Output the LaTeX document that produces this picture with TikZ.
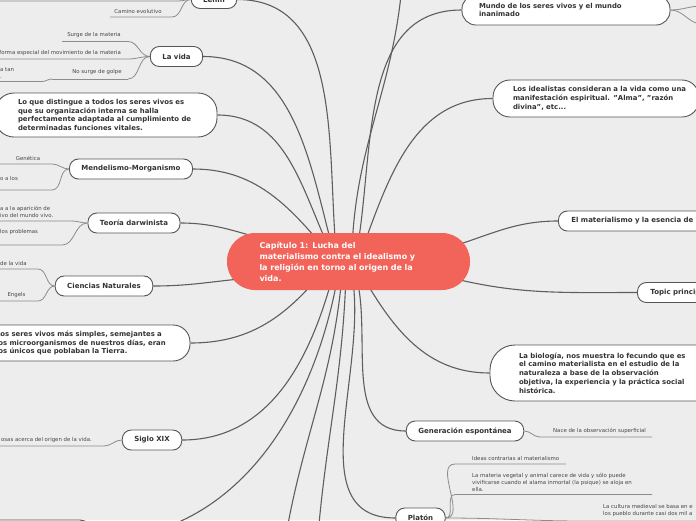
\documentclass[tikz,border=0pt]{standalone}
\usepackage{fontspec}
\setmainfont{DejaVu Sans}
\definecolor{bgc}{HTML}{EDEDED}
\definecolor{redc}{HTML}{F2635A}
\definecolor{edgec}{HTML}{555555}
\definecolor{txt}{HTML}{333333}
\definecolor{connc}{HTML}{5E5E5E}
\definecolor{subc}{HTML}{8C8C8C}
\pgfdeclarelayer{bgl}\pgfdeclarelayer{cl}\pgfsetlayers{bgl,cl,main}
\tikzset{
 box/.style={draw=edgec, line width=0.9pt, fill=white, rounded corners=9pt, minimum height=20pt, inner xsep=12pt, inner ysep=0pt, font=\fontsize{7}{9}\selectfont\bfseries, text=txt},
 mbox/.style={draw=edgec, line width=0.9pt, fill=white, inner ysep=0pt, align=left, font=\fontsize{6.9}{8.8}\selectfont\bfseries, text=txt},
 small/.style={font=\fontsize{5.4}{7}\selectfont, text=black!72, inner sep=0pt, align=left},
 mainc/.style={connc, line width=1.1pt},
 subl/.style={subc, line width=0.8pt},
}
\begin{document}
\begin{tikzpicture}[x=1pt,y=-1pt]
\begin{pgfonlayer}{bgl}
\fill[bgc] (0,0) rectangle (696,520);
\end{pgfonlayer}
\useasboundingbox (0,0) rectangle (696,520);
% centre
\node[fill=redc, rounded corners=28pt, minimum width=243pt, minimum height=57pt, text width=178pt, inner xsep=32.5pt, inner ysep=0pt, align=left, text=white, font=\fontsize{8}{11}\selectfont\bfseries] (c) at (348.5,261.5) {Capítulo 1: Lucha del\\materialismo contra el idealismo y\\la religión en torno al origen de la\\vida.};
% left branches
\node[box, minimum height=18pt] (lenin) at (214,-0.5) {Lenin};
\node[box] (vida) at (176.5,56.5) {La vida};
\node[mbox, rounded corners=19pt, minimum width=222pt, minimum height=44pt, text width=176pt, inner xsep=23pt] (dist) at (106,115) {\mbox{Lo que distingue a todos los seres vivos es}\\\mbox{que su organización interna se halla}\\\mbox{perfectamente adaptada al cumplimiento de}\\\mbox{determinadas funciones vitales.}};
\node[box] (mend) at (131,169) {Mendelismo-Morganismo};
\node[box] (darw) at (134,223) {Teoría darwinista};
\node[box] (cien) at (104,286) {Ciencias Naturales};
\node[mbox, rounded corners=17pt, minimum width=216pt, minimum height=36pt, text width=172pt, inner xsep=22pt] (simp) at (82,343) {\mbox{Los seres vivos más simples, semejantes a}\\\mbox{los microorganismos de nuestros días, eran}\\\mbox{los únicos que poblaban la Tierra.}};
\node[box] (siglo) at (152,440) {Siglo XIX};
\node[box, minimum width=192pt, minimum height=40pt, rounded corners=12pt] (bl) at (-4,540) {};
% right branches
\node[mbox, rounded corners=14pt, minimum width=208pt, minimum height=30pt, text width=174pt, inner xsep=17pt] (mundo) at (566,10) {\mbox{Mundo de los seres vivos y el mundo}\\\mbox{inanimado}};
\node[mbox, rounded corners=17pt, minimum width=206pt, minimum height=37pt, text width=166pt, inner xsep=20pt] (ideal) at (596,98.5) {\mbox{Los idealistas consideran a la vida como una}\\\mbox{manifestación espiritual. "Alma", "razón}\\\mbox{divina", etc...}};
\node[box, anchor=west, text width=180pt, inner xsep=13pt, align=left] (mater) at (558,221) {\mbox{El materialismo y la esencia de la vida}};
\node[box, anchor=west, text width=80pt, inner xsep=13pt, align=left] (topic) at (637,292.5) {Topic principal};
\node[mbox, rounded corners=25pt, minimum width=232pt, minimum height=56pt, text width=174pt, inner xsep=29pt] (bio) at (606,373) {\mbox{La biología, nos muestra lo fecundo que es}\\\mbox{el camino materialista en el estudio de la}\\\mbox{naturaleza a base de la observación}\\\mbox{objetiva, la experiencia y la práctica social}\\\mbox{histórica.}};
\node[box] (gen) at (465,431) {Generación espontánea};
\node[box] (plat) at (420.5,518) {Platón};
% small texts
\node[small] (s1) at (138,11.5) {Camino evolutivo};
\node[small] (s2) at (94,35) {Surge de la materia};
\node[small, anchor=east] (s3) at (121,53) {Es una forma especial del movimiento de la materia};
\node[small] (s4) at (97,72.5) {No surge de golpe};
\node[small, anchor=west] (s5) at (0,73) {a tan\\.};
\node[small] (s6) at (28,158) {Genética};
\node[small, anchor=west] (s7) at (0,178) {o a los};
\node[small, anchor=west] (s8) at (0,212) {a a la aparición de\\ivo del mundo vivo.};
\node[small, anchor=west] (s9) at (0,232.5) {los problemas};
\node[small, anchor=west] (s10) at (0,263) {de la vida};
\node[small] (s11) at (16.5,295) {Engels};
\node[small, anchor=east] (s12) at (92,440) {osas acerca del origen de la vida.};
\node[small, anchor=west] (s13) at (553,431) {Nace de la observación superficial};
\node[small, anchor=west] (s14) at (472,458) {Ideas contrarias al materialismo};
\node[small, anchor=north west] (s15) at (472,473) {La materia vegetal y animal carece de vida y sólo puede\\vivificarse cuando el alama inmortal (la psique) se aloja en\\ella.};
\node[small, anchor=west] (s16) at (603,510.5) {La cultura medieval se basa en e\\los pueblo durante casi dos mil a};
% coordinates
\coordinate (l0a) at (-5,1); \coordinate (l0b) at (178,1);
\coordinate (u1a) at (110,17); \coordinate (u1b) at (172,17);
\coordinate (u2a) at (62,41.5); \coordinate (u2b) at (128,41.5);
\coordinate (u3a) at (-5,59); \coordinate (u3b) at (128,59);
\coordinate (u4a) at (52,79); \coordinate (u4b) at (128,79);
\coordinate (u5a) at (-5,81.5); \coordinate (u5b) at (42,81.5);
\coordinate (u6a) at (-5,164); \coordinate (u6b) at (52,164);
\coordinate (u7a) at (-5,190); \coordinate (u7b) at (52,190);
\coordinate (u8a) at (-5,221); \coordinate (u8b) at (72,221);
\coordinate (u9a) at (-5,245); \coordinate (u9b) at (62,245);
\coordinate (u10a) at (-5,269); \coordinate (u10b) at (38,269);
\coordinate (u11a) at (-5,301); \coordinate (u11b) at (38,301);
\coordinate (u12a) at (-5,446); \coordinate (u12b) at (104,446);
\coordinate (u13a) at (540,437); \coordinate (u13b) at (652,437);
\coordinate (u14a) at (455,464); \coordinate (u14b) at (566,464);
\coordinate (u15a) at (455,494.5); \coordinate (u15b) at (652,494.5);
\coordinate (u16a) at (585,521); \coordinate (u16b) at (720,521);
\coordinate (m1) at (702,6); \coordinate (m2) at (702,24);
\coordinate (t1) at (402,-15);
\coordinate (b1) at (286,535); \coordinate (b2) at (318,535);
\begin{pgfonlayer}{cl}
% main connectors
\draw[mainc] (lenin.east) to[out=0,in=95] (336,250);
\draw[mainc] (vida.east) to[out=0,in=105] (333,250);
\draw[mainc] (dist.east) to[out=0,in=115] (330,250);
\draw[mainc] (mend.east) to[out=0,in=130] (326,250);
\draw[mainc] (darw.east) to[out=0,in=170] (290,245);
\draw[mainc] (cien.east) to[out=0,in=185] (250,278);
\draw[mainc] (simp.east) to[out=0,in=-130] (320,275);
\draw[mainc] (siglo.east) to[out=0,in=-105] (333,275);
\draw[mainc] (bl.east) to[out=0,in=-100] (338,275);
\draw[mainc] (b1) to[out=80,in=-95] (342,275);
\draw[mainc] (b2) to[out=85,in=-92] (346,275);
\draw[mainc] (plat.west) to[out=180,in=-80] (352,275);
\draw[mainc] (gen.west) to[out=180,in=-75] (356,275);
\draw[mainc] (bio.west) to[out=180,in=-60] (362,275);
\draw[mainc] (topic.west) to[out=180,in=-15] (440,275);
\draw[mainc] (mater.west) to[out=180,in=15] (440,250);
\draw[mainc] (ideal.west) to[out=180,in=70] (362,250);
\draw[mainc] (mundo.west) to[out=180,in=80] (357,250);
\draw[mainc] (t1) to[out=-95,in=88] (352,250);
% sub connectors
\draw[subl] (l0a) -- (l0b) to[out=0,in=180] (lenin.west);
\draw[subl] (u1a) -- (u1b) to[out=0,in=180] (lenin.west);
\draw[subl] (u2a) -- (u2b) to[out=0,in=180] (vida.west);
\draw[subl] (u3a) -- (u3b) to[out=0,in=180] (vida.west);
\draw[subl] (u4b) -- (u4a);
\draw[subl] (u4b) to[out=0,in=180] (vida.west);
\draw[subl] (u5a) -- (u5b) to[out=0,in=180] (u4a);
\draw[subl] (u6a) -- (u6b) to[out=0,in=180] (mend.west);
\draw[subl] (u7a) -- (u7b) to[out=0,in=180] (mend.west);
\draw[subl] (u8a) -- (u8b) to[out=0,in=180] (darw.west);
\draw[subl] (u9a) -- (u9b) to[out=0,in=180] (darw.west);
\draw[subl] (u10a) -- (u10b) to[out=0,in=180] (cien.west);
\draw[subl] (u11a) -- (u11b) to[out=0,in=180] (cien.west);
\draw[subl] (u12a) -- (u12b) to[out=0,in=180] (siglo.west);
\draw[subl] (u13b) -- (u13a) to[out=180,in=0] (gen.east);
\draw[subl] (u14b) -- (u14a) to[out=180,in=0] (plat.east);
\draw[subl] (u15b) -- (u15a) to[out=180,in=0] (plat.east);
\draw[subl] (u16b) -- (u16a) to[out=180,in=0] (plat.east);
\draw[subl] (mundo.east) to[out=0,in=180] (m1);
\draw[subl] (mundo.east) to[out=0,in=180] (m2);
\end{pgfonlayer}
\end{tikzpicture}
\end{document}
